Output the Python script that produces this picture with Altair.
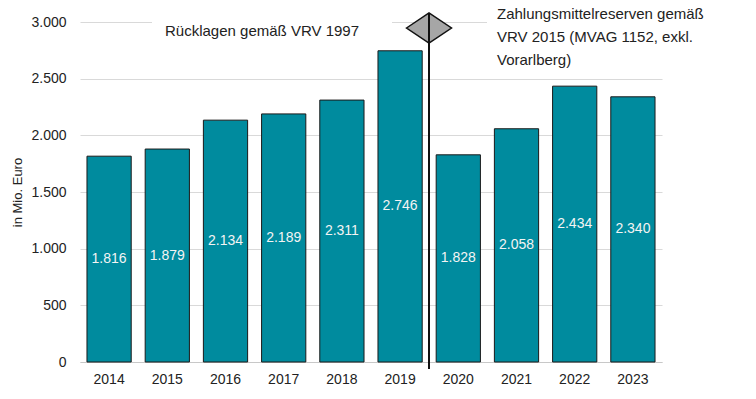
import altair as alt
import pandas as pd

years = ["2014", "2015", "2016", "2017", "2018", "2019", "2020", "2021", "2022", "2023"]
values = [1816, 1879, 2134, 2189, 2311, 2746, 1828, 2058, 2434, 2340]
y_ticks = [0, 500, 1000, 1500, 2000, 2500, 3000]
y_title = "in Mio. Euro"
left_note = "Rücklagen gemäß VRV 1997"
right_note = ["Zahlungsmittelreserven  gemäß", "VRV 2015 (MVAG 1152, exkl.", "Vorarlberg)"]

df = pd.DataFrame({"year": years, "value": values})
FONT = "Liberation Sans"

base = alt.Chart(df)
one = alt.Chart(pd.DataFrame({"k": [0]}))

bars = base.mark_bar(color="#008B9E", stroke="#1a1a1a", strokeWidth=1).encode(
    x=alt.X("year:N", sort=years,
            scale=alt.Scale(paddingInner=0.24, paddingOuter=0.12),
            axis=alt.Axis(title=None, labelAngle=0, ticks=False, labelFontSize=14,
                          labelColor="#222", labelFont=FONT, labelPadding=10,
                          domainColor="#c8c8c8", grid=False)),
    y=alt.Y("value:Q", scale=alt.Scale(domain=[0, 3000], nice=False),
            axis=alt.Axis(values=y_ticks, title=y_title, titleFont=FONT,
                          titleFontSize=13, titleFontWeight="normal", titleColor="#222",
                          titlePadding=6,
                          labelFontSize=14, labelColor="#222", labelFont=FONT,
                          labelExpr="replace(format(datum.value, ','), ',', '.')",
                          ticks=False, domain=False, gridColor="#d9d9d9", labelPadding=14)),
)

labels = base.transform_calculate(
    half="datum.value / 2",
    lab="replace(format(datum.value, ','), ',', '.')",
).mark_text(color="#f4f4f4", fontSize=14, font=FONT).encode(
    x=alt.X("year:N", sort=years),
    y=alt.Y("half:Q"),
    text="lab:N",
)

# white boxes behind annotation texts (hide gridline like the original)
box_left = one.mark_rect(color="white").encode(
    x=alt.value(72), x2=alt.value(312), y=alt.value(-5), y2=alt.value(22))
box_right = one.mark_rect(color="white").encode(
    x=alt.value(407), x2=alt.value(620), y=alt.value(-22), y2=alt.value(52))

vline = one.mark_rule(color="#111", strokeWidth=2).encode(
    x=alt.value(349), y=alt.value(-9), y2=alt.value(347))

diamond = one.mark_point(
    shape="M -1.5 0 L 0 -1 L 1.5 0 L 0 1 Z", size=900, filled=True,
    fill="#a6a6a6", stroke="#111", strokeWidth=1.5, opacity=1
).encode(x=alt.value(349), y=alt.value(6))

vline_top = one.mark_rule(color="#111", strokeWidth=2).encode(
    x=alt.value(349), y=alt.value(-9), y2=alt.value(21))

text_left = one.mark_text(align="left", baseline="middle", fontSize=15, font=FONT,
                          color="#222", text=left_note).encode(
    x=alt.value(85), y=alt.value(9))

text_right = one.mark_text(align="left", baseline="middle", fontSize=15, font=FONT,
                           color="#222", lineHeight=23, text=right_note).encode(
    x=alt.value(417), y=alt.value(-8))

chart = alt.layer(
    bars, labels, box_left, box_right, vline, diamond, vline_top, text_left, text_right
).properties(
    width=582, height=340,
    autosize=alt.AutoSizeParams(type="none"),
    padding={"left": 72, "top": 14, "right": 86, "bottom": 29},
).configure_view(stroke=None)

chart.save("out.html", embed_options={"renderer": "svg", "actions": False})
